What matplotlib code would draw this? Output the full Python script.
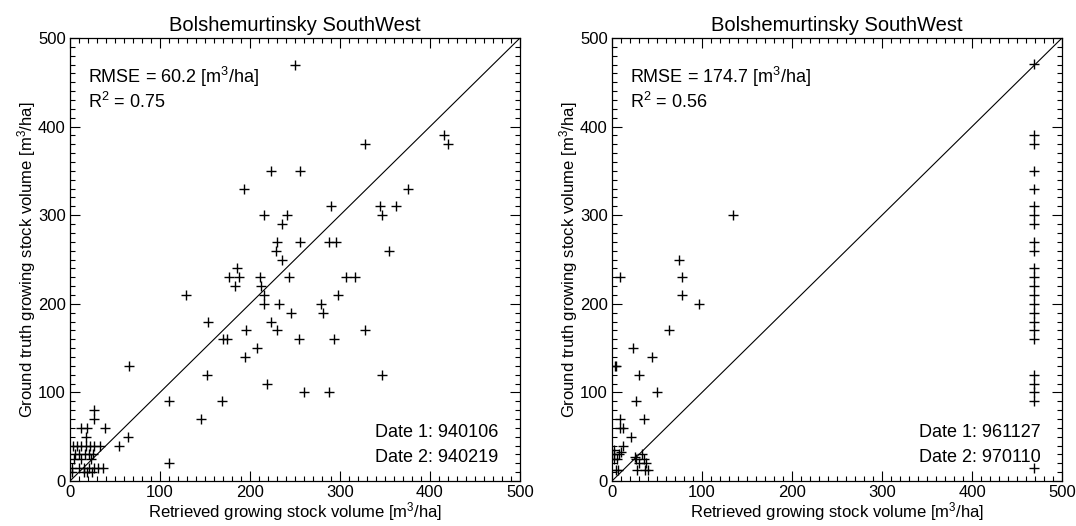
import matplotlib
matplotlib.use("Agg")
import matplotlib.pyplot as plt
from matplotlib.ticker import MultipleLocator

plt.rcParams['font.family'] = ['Liberation Sans', 'DejaVu Sans']
plt.rcParams['mathtext.fontset'] = 'custom'
plt.rcParams['mathtext.rm'] = 'Liberation Sans'
plt.rcParams['mathtext.it'] = 'Liberation Sans'
plt.rcParams['mathtext.bf'] = 'Liberation Sans'

title = "Bolshemurtinsky SouthWest"
xlabel = "Retrieved growing stock volume [m$^{3}$/ha]"
ylabel = "Ground truth growing stock volume [m$^{3}$/ha]"

# Left panel data (retrieved, ground truth)
left_x = [415, 420, 328, 223, 256, 193, 376, 290, 344, 362, 215, 241, 347, 236,
          230, 256, 288, 296, 229, 354, 236, 185, 177, 188, 211, 243, 307, 317,
          183, 212, 216, 129, 298, 216, 232, 279, 245, 281, 153, 223, 195, 230,
          328, 170, 174, 254, 293, 208, 194, 66, 250,
          152, 347, 219, 260, 288, 110, 169, 146, 27, 27, 12, 19, 39, 18, 64, 54, 110,
          3, 8, 12, 18, 22, 27, 33, 5, 10, 17, 21, 25, 4, 12, 23,
          2, 10, 16, 21, 27, 31, 37, 2, 15, 19, 24]
left_y = [390, 380, 380, 350, 350, 330, 330, 310, 310, 310, 300, 300, 300, 290,
          270, 270, 270, 270, 260, 260, 250, 240, 230, 230, 230, 230, 230, 230,
          220, 220, 210, 210, 210, 200, 200, 200, 190, 190, 180, 180, 170, 170,
          170, 160, 160, 160, 160, 150, 140, 130, 470,
          120, 120, 110, 100, 100, 90, 90, 70, 80, 70, 60, 60, 60, 50, 50, 40, 20,
          40, 40, 40, 40, 40, 40, 40, 30, 30, 30, 30, 30, 25, 25, 25,
          15, 15, 15, 15, 15, 15, 15, 10, 10, 10, 10]

# Right panel data
right_x = [134, 74, 78, 9, 78, 97, 63, 23, 44, 4, 3, 30, 50, 27, 9, 9, 12, 35, 21, 12,
           10, 2, 2, 2, 5, 8, 25, 27, 33, 36, 38, 30, 28, 37, 40, 7, 4,
           469, 469, 469, 469, 469, 469, 469, 469, 469, 469, 469, 469, 469, 469, 469,
           469, 469, 469, 469, 469, 469, 469, 469, 469]
right_y = [300, 250, 230, 230, 210, 200, 170, 150, 140, 130, 130, 120, 100, 90, 70, 60,
           60, 70, 50, 40, 33, 35, 30, 25, 25, 30, 27, 25, 30, 25, 20, 20, 12, 12, 12, 12, 12,
           471, 390, 380, 350, 330, 310, 300, 290, 270, 260, 240, 230, 220, 210, 200,
           190, 180, 170, 160, 120, 110, 100, 90, 15]

panels = [
    dict(x=left_x, y=left_y, rmse="RMSE = 60.2 [m$^{3}$/ha]", r2="R$^{2}$ = 0.75",
         d1="Date 1: 940106", d2="Date 2: 940219"),
    dict(x=right_x, y=right_y, rmse="RMSE = 174.7 [m$^{3}$/ha]", r2="R$^{2}$ = 0.56",
         d1="Date 1: 961127", d2="Date 2: 970110"),
]

fig = plt.figure(figsize=(10.76, 5.26), dpi=100)
lefts = [70 / 1076, 612 / 1076]
for p, l in zip(panels, lefts):
    ax = fig.add_axes([l, 45 / 526, 450 / 1076, 443 / 526])
    ax.plot([0, 500], [0, 500], color='black', lw=0.8)
    ax.plot(p['x'], p['y'], linestyle='none', marker='+', color='black',
            markersize=7.5, markeredgewidth=1.0)
    ax.set_xlim(0, 500)
    ax.set_ylim(0, 500)
    ax.xaxis.set_major_locator(MultipleLocator(100))
    ax.yaxis.set_major_locator(MultipleLocator(100))
    ax.xaxis.set_minor_locator(MultipleLocator(10))
    ax.yaxis.set_minor_locator(MultipleLocator(10))
    ax.tick_params(which='both', direction='in', top=True, right=True,
                   labelsize=12, width=0.8)
    ax.tick_params(which='major', length=7, pad=3)
    ax.tick_params(which='minor', length=3.5)
    for s in ax.spines.values():
        s.set_linewidth(0.9)
    ax.set_title(title, fontsize=14.5, pad=5)
    ax.set_xlabel(xlabel, fontsize=12, labelpad=0)
    ax.set_ylabel(ylabel, fontsize=12, labelpad=0)
    ax.text(20, 456, p['rmse'], fontsize=13, va='center', ha='left')
    ax.text(20, 428, p['r2'], fontsize=13, va='center', ha='left')
    ax.text(476, 55, p['d1'], fontsize=13, va='center', ha='right')
    ax.text(476, 26, p['d2'], fontsize=13, va='center', ha='right')

fig.savefig("out.png", dpi=100)
